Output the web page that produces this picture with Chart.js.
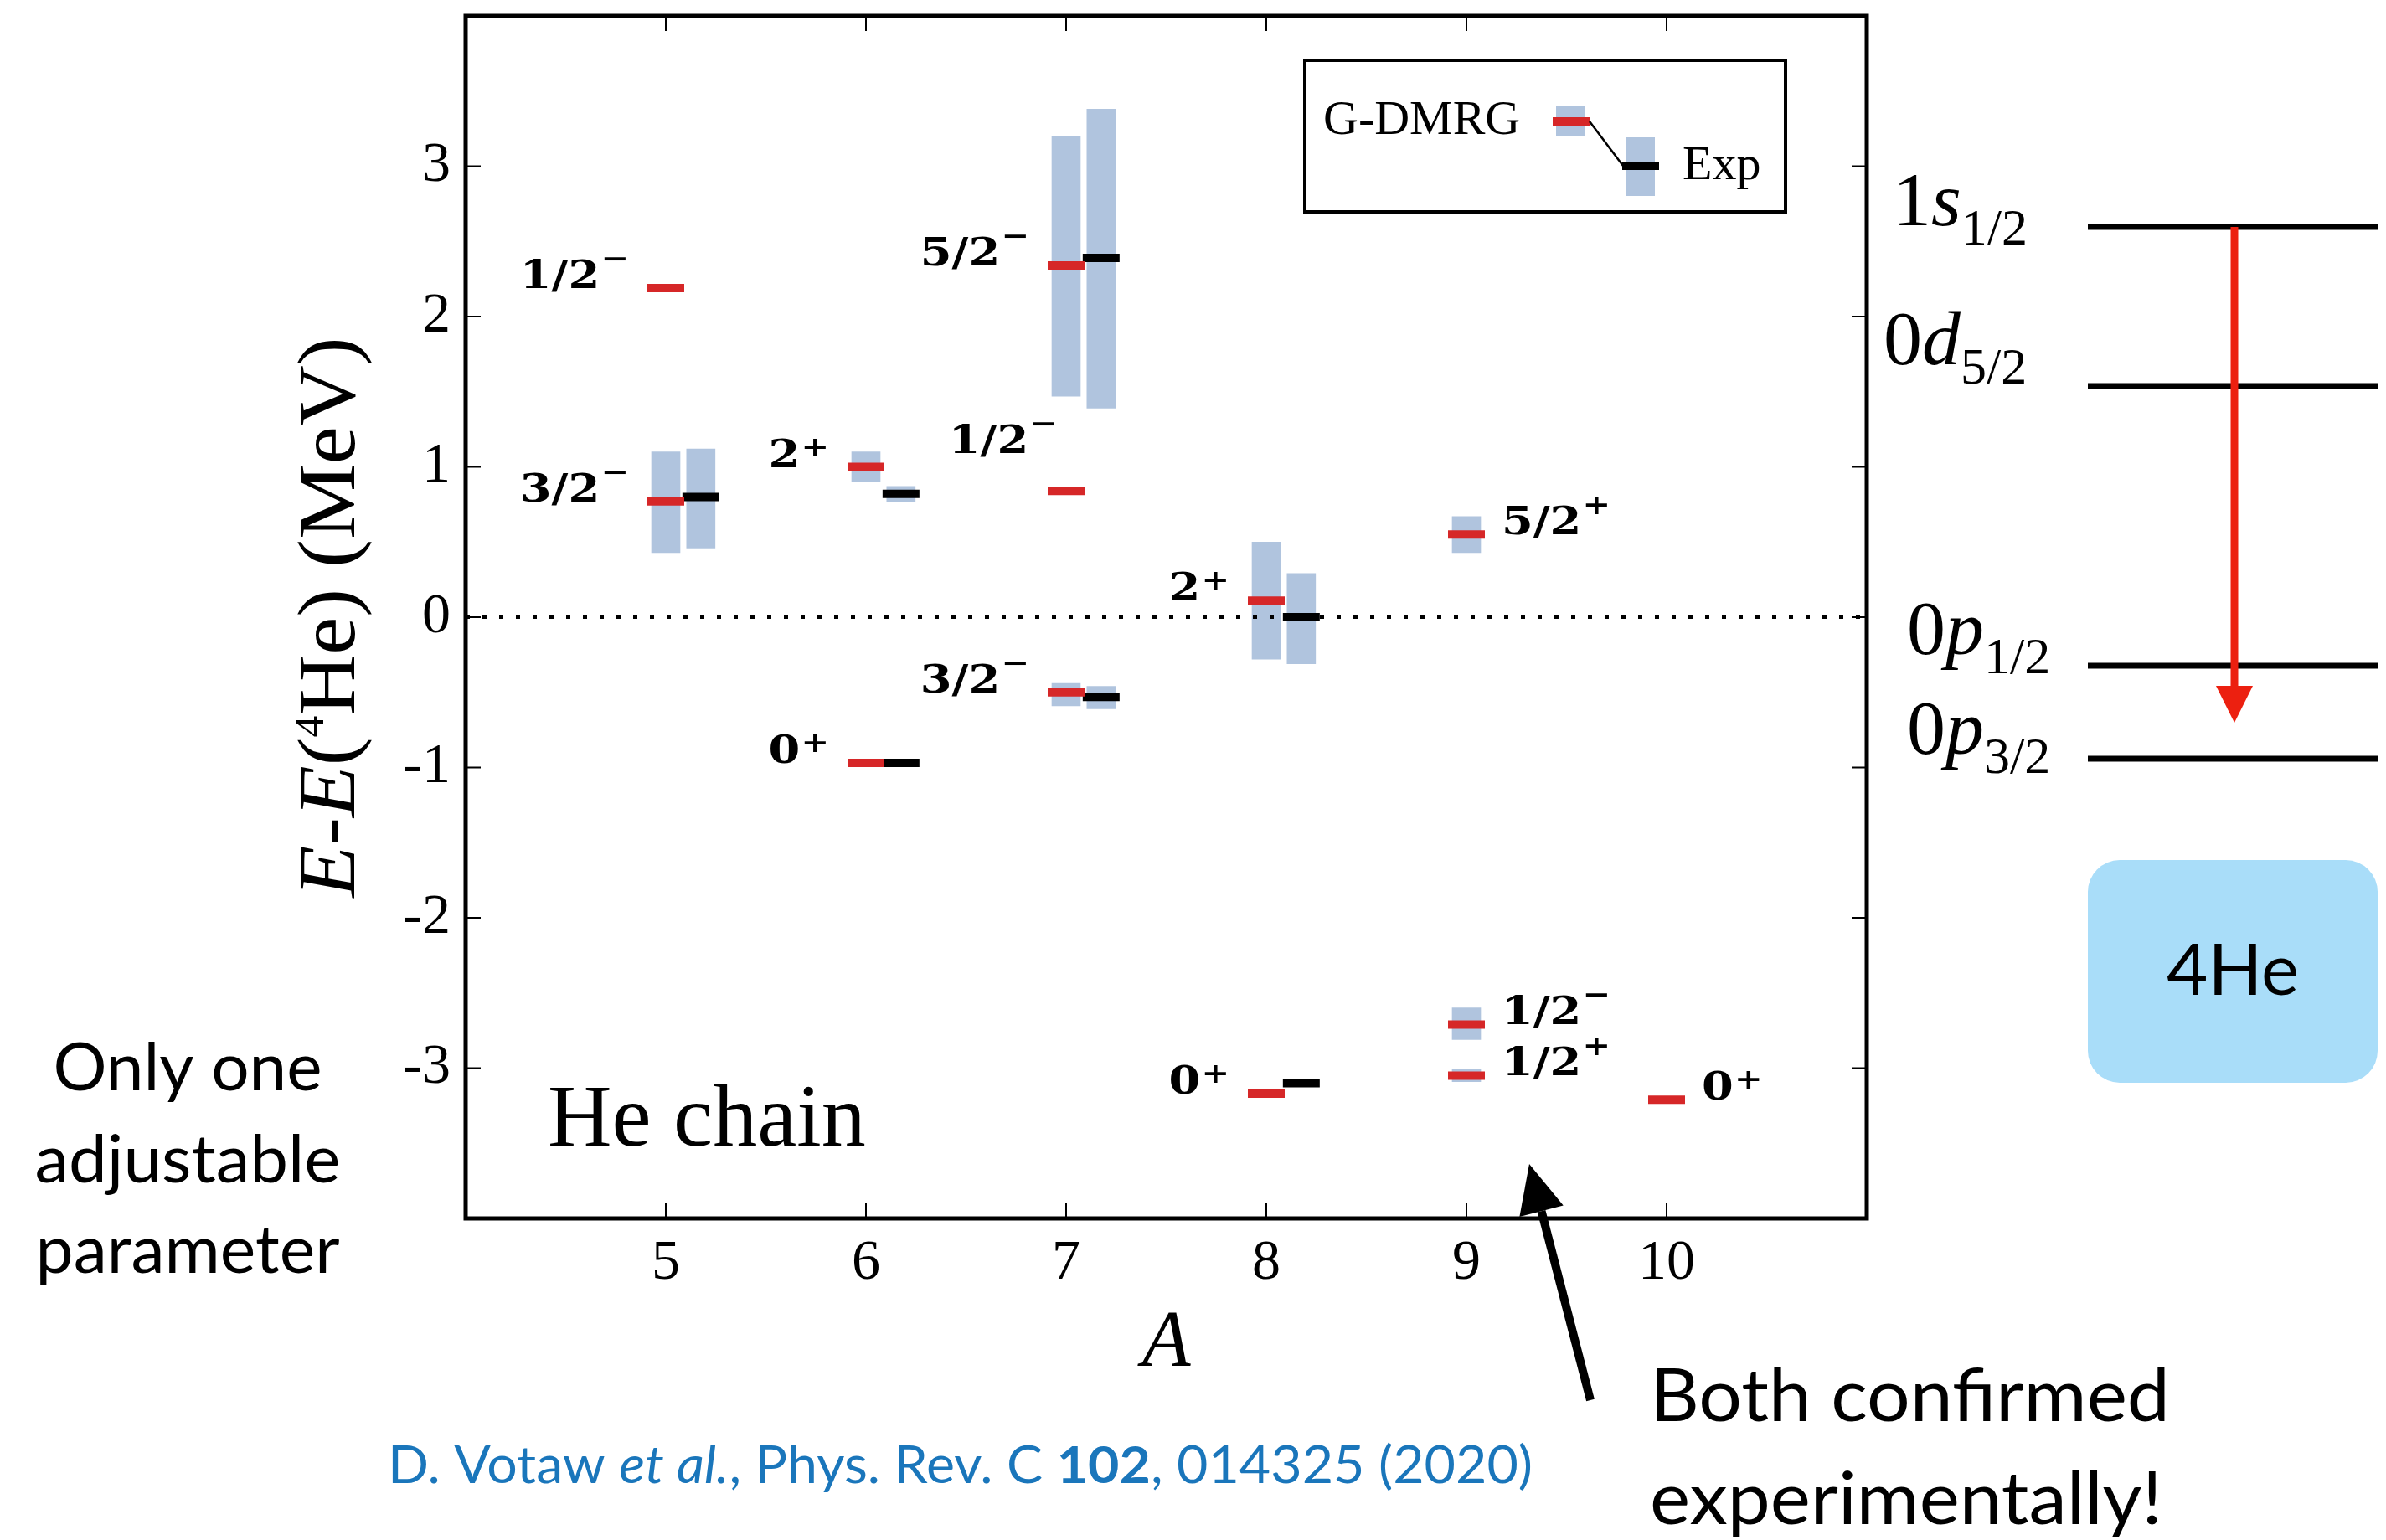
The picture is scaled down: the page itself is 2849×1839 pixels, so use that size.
<!DOCTYPE html>
<html>
<head>
<meta charset="utf-8">
<script src="https://cdn.jsdelivr.net/npm/chart.js@4.4.1/dist/chart.umd.min.js"></script>
<style>
  html, body { margin: 0; padding: 0; background: #fff; }
  #wrap { position: relative; width: 2849px; height: 1839px; }
</style>
</head>
<body>
<div id="wrap"><canvas id="levels" width="2849" height="1839"></canvas></div>
<script>
// x axis: mass number A of the He isotopes, y axis: E - E(4He) in MeV
const massTicks = [5, 6, 7, 8, 9, 10];
const energyTicks = [-3, -2, -1, 0, 1, 2, 3];

// G-DMRG levels (red) with their uncertainty bands
const theoryA      = [5, 5, 6, 6, 7, 7, 7, 8, 8, 9, 9, 9, 10];
const theoryE      = [2.19, 0.77, 1.00, -0.97, 2.34, 0.84, -0.50, 0.11, -3.17, 0.55, -2.71, -3.05, -3.21];
const theoryLow    = [null, 0.43, 0.90, null, 1.47, null, -0.59, -0.28, null, 0.43, -2.81, -3.09, null];
const theoryHigh   = [null, 1.10, 1.10, null, 3.20, null, -0.44, 0.50, null, 0.67, -2.60, -3.01, null];
const theorySpin   = ['1/2', '3/2', '2', '0', '5/2', '1/2', '3/2', '2', '0', '5/2', '1/2', '1/2', '0'];
const theoryParity = ['\u2212', '\u2212', '+', '+', '\u2212', '\u2212', '\u2212', '+', '+', '+', '\u2212', '+', '+'];

// experimental levels (black) with widths
const expA    = [5, 6, 6, 7, 7, 8, 8];
const expE    = [0.80, 0.82, -0.97, 2.39, -0.53, 0.00, -3.10];
const expLow  = [0.46, 0.77, null, 1.39, -0.61, -0.31, null];
const expHigh = [1.12, 0.87, null, 3.38, -0.46, 0.29, null];

const RED = '#d62728';
const BAND = '#b0c4de';
const EXP_SHIFT = 0.175;   // exp level drawn just right of the calculated one
const RAISED_LABEL = 5;    // 1/2- of 7He sits above its level
const SERIF = '"Liberation Serif", "Times New Roman", serif';
const BOLDSERIF = '"DejaVu Serif", serif';
const SANS = 'Lato, "Open Sans", sans-serif';

function bandPoints(xs, lo, hi, shift) {
  const out = [];
  xs.forEach((a, i) => {
    if (lo[i] !== null) out.push({x: a + shift, y: [lo[i], hi[i]]});
  });
  return out;
}

function levelPoints(xs, es, shift) {
  return xs.map((a, i) => ({x: a + shift, y: es[i]}));
}

// text runs: [{text, font, rise}]
function runWidth(ctx, runs) {
  let w = 0;
  for (const r of runs) {
    ctx.font = r.font;
    w += ctx.measureText(r.text).width + (r.gap || 0);
  }
  return w;
}

function drawRuns(ctx, runs, x, y) {
  let cx = x;
  for (const r of runs) {
    ctx.font = r.font;
    cx += r.gap || 0;
    ctx.fillText(r.text, cx, y - (r.rise || 0));
    cx += ctx.measureText(r.text).width;
  }
}

// draw runs squeezed/stretched to a given width
function drawFitted(ctx, runs, x, y, width, align) {
  const w = runWidth(ctx, runs);
  const s = width ? width / w : 1;
  ctx.save();
  const start = align === 'center' ? x - (w * s) / 2 : x;
  ctx.translate(start, y);
  ctx.scale(s, 1);
  drawRuns(ctx, runs, 0, 0);
  ctx.restore();
}

function arrow(ctx, x0, y0, x1, y1, shaft, headLen, headW, color) {
  const ang = Math.atan2(y1 - y0, x1 - x0);
  const bx = x1 - Math.cos(ang) * headLen, by = y1 - Math.sin(ang) * headLen;
  ctx.save();
  ctx.strokeStyle = color;
  ctx.fillStyle = color;
  ctx.lineWidth = shaft;
  ctx.beginPath();
  ctx.moveTo(x0, y0);
  ctx.lineTo(bx, by);
  ctx.stroke();
  const nx = -Math.sin(ang) * headW / 2, ny = Math.cos(ang) * headW / 2;
  ctx.beginPath();
  ctx.moveTo(x1, y1);
  ctx.lineTo(bx + nx, by + ny);
  ctx.lineTo(bx - nx, by - ny);
  ctx.closePath();
  ctx.fill();
  ctx.restore();
}

const levelLabels = {
  id: 'levelLabels',
  afterDatasetsDraw(chart) {
    const {ctx, scales: {x, y}} = chart;
    const stretch = 1.18;
    ctx.save();
    ctx.fillStyle = '#000';
    ctx.textBaseline = 'alphabetic';
    theoryA.forEach((a, i) => {
      const px = x.getPixelForValue(a);
      const py = y.getPixelForValue(theoryE[i]);
      const frac = theorySpin[i].includes('/');
      const runs = [
        {text: theorySpin[i], font: 'bold 46px ' + BOLDSERIF},
        {text: theoryParity[i], font: 'bold 34px ' + BOLDSERIF, rise: frac ? 24 : 13, gap: 1}
      ];
      const w = runWidth(ctx, runs) * stretch;
      let sx = px - 44 - w, sy = py;
      if (i === RAISED_LABEL) { sx = px - 10 - w; sy = py - 45; }
      else if (a >= 9) sx = px + 42;
      drawFitted(ctx, runs, sx, sy, w);
    });
    ctx.restore();
  }
};

const frameAndNotes = {
  id: 'frameAndNotes',
  afterDraw(chart) {
    const {ctx, chartArea: ca, scales: {x, y}} = chart;
    ctx.save();
    ctx.strokeStyle = '#000';
    ctx.fillStyle = '#000';

    // inward ticks on all four sides
    ctx.lineWidth = 2;
    ctx.beginPath();
    massTicks.forEach(v => {
      const p = x.getPixelForValue(v);
      ctx.moveTo(p, ca.bottom); ctx.lineTo(p, ca.bottom - 18);
      ctx.moveTo(p, ca.top); ctx.lineTo(p, ca.top + 18);
    });
    energyTicks.forEach(v => {
      const p = y.getPixelForValue(v);
      ctx.moveTo(ca.left, p); ctx.lineTo(ca.left + 18, p);
      ctx.moveTo(ca.right, p); ctx.lineTo(ca.right - 18, p);
    });
    ctx.stroke();
    ctx.lineWidth = 5;
    ctx.strokeRect(ca.left, ca.top, ca.right - ca.left, ca.bottom - ca.top);

    // y axis title, rotated
    ctx.save();
    ctx.translate(423, (ca.top + ca.bottom) / 2);
    ctx.rotate(-Math.PI / 2);
    const yTitle = [
      {text: 'E', font: 'italic 98px ' + SERIF},
      {text: '-', font: '98px ' + SERIF},
      {text: 'E', font: 'italic 98px ' + SERIF},
      {text: '(', font: '98px ' + SERIF},
      {text: '4', font: '50px ' + SERIF, rise: 37},
      {text: 'He) (MeV)', font: '98px ' + SERIF}
    ];
    drawFitted(ctx, yTitle, 0, 0, 669, 'center');
    ctx.restore();

    // in-plot caption
    ctx.font = '106px ' + SERIF;
    ctx.fillText('He chain', 654, 1368);

    // legend box
    ctx.lineWidth = 4;
    ctx.strokeRect(1558, 72, 574, 181);
    ctx.font = '58px ' + SERIF;
    ctx.fillText('G-DMRG', 1580, 160);
    ctx.fillText('Exp', 2009, 214);
    ctx.fillStyle = BAND;
    ctx.fillRect(1858, 127, 34, 36);
    ctx.fillRect(1942, 164, 34, 70);
    ctx.lineWidth = 10;
    ctx.strokeStyle = RED;
    ctx.beginPath(); ctx.moveTo(1854, 145); ctx.lineTo(1898, 145); ctx.stroke();
    ctx.strokeStyle = '#000';
    ctx.beginPath(); ctx.moveTo(1937, 198); ctx.lineTo(1981, 198); ctx.stroke();
    ctx.lineWidth = 2.5;
    ctx.beginPath(); ctx.moveTo(1898, 145); ctx.lineTo(1938, 198); ctx.stroke();
    ctx.fillStyle = '#000';

    // side note on the left
    drawFitted(ctx, [{text: 'Only one', font: '79px ' + SANS}], 224, 1302, 321, 'center');
    drawFitted(ctx, [{text: 'adjustable', font: '79px ' + SANS}], 224, 1412, 365, 'center');
    drawFitted(ctx, [{text: 'parameter', font: '79px ' + SANS}], 224, 1520, 363, 'center');

    // reference
    ctx.fillStyle = '#1a76bb';
    drawFitted(ctx, [
      {text: 'D. Votaw ', font: '62px ' + SANS},
      {text: 'et al.', font: 'italic 62px ' + SANS},
      {text: ', Phys. Rev. C ', font: '62px ' + SANS},
      {text: '102', font: 'bold 62px ' + SANS},
      {text: ', 014325 (2020)', font: '62px ' + SANS}
    ], 463, 1771, 1367);
    ctx.fillStyle = '#000';

    // note + arrow pointing at the two 9He levels
    drawFitted(ctx, [{text: 'Both confirmed', font: '88px ' + SANS}], 1970, 1697, 621);
    drawFitted(ctx, [{text: 'experimentally!', font: '88px ' + SANS}], 1970, 1820, 612);
    arrow(ctx, 1899, 1672, 1826, 1390, 10, 58, 54, '#000');

    // single-particle scheme on the right
    ctx.lineWidth = 7;
    ctx.strokeStyle = '#000';
    [271, 461, 795, 906].forEach(ly => {
      ctx.beginPath(); ctx.moveTo(2493, ly); ctx.lineTo(2839, ly); ctx.stroke();
    });
    const orb = (n, l, j, lx, ly) => drawRuns(ctx, [
      {text: n, font: '92px ' + SERIF},
      {text: l, font: 'italic 92px ' + SERIF},
      {text: j, font: '62px ' + SERIF, rise: -23}
    ], lx, ly);
    orb('1', 's', '1/2', 2260, 269);
    orb('0', 'd', '5/2', 2249, 435);
    orb('0', 'p', '1/2', 2277, 781);
    orb('0', 'p', '3/2', 2277, 900);
    arrow(ctx, 2668, 271, 2668, 863, 9, 44, 44, '#ec2010');

    ctx.fillStyle = '#a9ddf9';
    ctx.beginPath();
    ctx.roundRect(2493, 1027, 346, 266, 38);
    ctx.fill();
    ctx.fillStyle = '#000';
    drawFitted(ctx, [{text: '4He', font: '86px ' + SANS}], 2666, 1188, 158, 'center');

    ctx.restore();
  }
};

// drop the edge padding Chart.js reserves for tick labels
function fixBox(s, w, h) {
  if (w) s.width = w;
  if (h) s.height = h;
  s.paddingTop = 0; s.paddingBottom = 0; s.paddingLeft = 0; s.paddingRight = 0;
}

const ctx = document.getElementById('levels').getContext('2d');
new Chart(ctx, {
  type: 'scatter',
  data: {
    datasets: [
      {
        type: 'scatter',
        label: 'G-DMRG',
        data: levelPoints(theoryA, theoryE, 0),
        pointStyle: 'line',
        pointRadius: 22,
        pointBorderWidth: 10,
        pointBorderColor: RED,
        order: 1
      },
      {
        type: 'scatter',
        label: 'Exp',
        data: levelPoints(expA, expE, EXP_SHIFT),
        pointStyle: 'line',
        pointRadius: 22,
        pointBorderWidth: 10,
        pointBorderColor: '#000',
        order: 1
      },
      {
        type: 'line',
        label: 'zero',
        data: [{x: 4, y: 0}, {x: 11, y: 0}],
        borderColor: '#000',
        borderWidth: 4,
        borderDash: [5, 15],
        pointRadius: 0,
        fill: false,
        order: 2
      },
      {
        type: 'bar',
        label: 'G-DMRG band',
        data: bandPoints(theoryA, theoryLow, theoryHigh, 0),
        backgroundColor: BAND,
        borderWidth: 0,
        grouped: false,
        barThickness: 34,
        maxBarThickness: 34,
        order: 3
      },
      {
        type: 'bar',
        label: 'Exp band',
        data: bandPoints(expA, expLow, expHigh, EXP_SHIFT),
        backgroundColor: BAND,
        borderWidth: 0,
        grouped: false,
        barThickness: 34,
        maxBarThickness: 34,
        order: 3
      }
    ]
  },
  options: {
    responsive: false,
    animation: false,
    devicePixelRatio: 1,
    events: [],
    layout: {autoPadding: false, padding: {left: 316, right: 620, top: 19, bottom: 164}},
    plugins: {legend: {display: false}, tooltip: {enabled: false}},
    scales: {
      x: {
        type: 'linear',
        min: 4, max: 11,
        offset: false,
        grid: {display: false, drawTicks: false},
        border: {display: false},
        ticks: {
          stepSize: 1,
          maxRotation: 0,
          autoSkip: false,
          padding: 13,
          color: '#000',
          font: {family: SERIF, size: 68},
          callback: v => massTicks.includes(v) ? String(v) : ''
        },
        title: {
          display: true,
          text: 'A',
          color: '#000',
          font: {family: SERIF, size: 95, style: 'italic'},
          padding: {top: 0, bottom: 12}
        },
        afterFit: s => fixBox(s, 0, 220)
      },
      y: {
        type: 'linear',
        min: -4, max: 4,
        grid: {display: false, drawTicks: false},
        border: {display: false},
        ticks: {
          stepSize: 1,
          padding: 18,
          color: '#000',
          font: {family: SERIF, size: 68},
          callback: v => energyTicks.includes(v) ? String(v) : ''
        },
        afterFit: s => fixBox(s, 240, 0)
      }
    }
  },
  plugins: [levelLabels, frameAndNotes]
});
</script>
</body>
</html>
